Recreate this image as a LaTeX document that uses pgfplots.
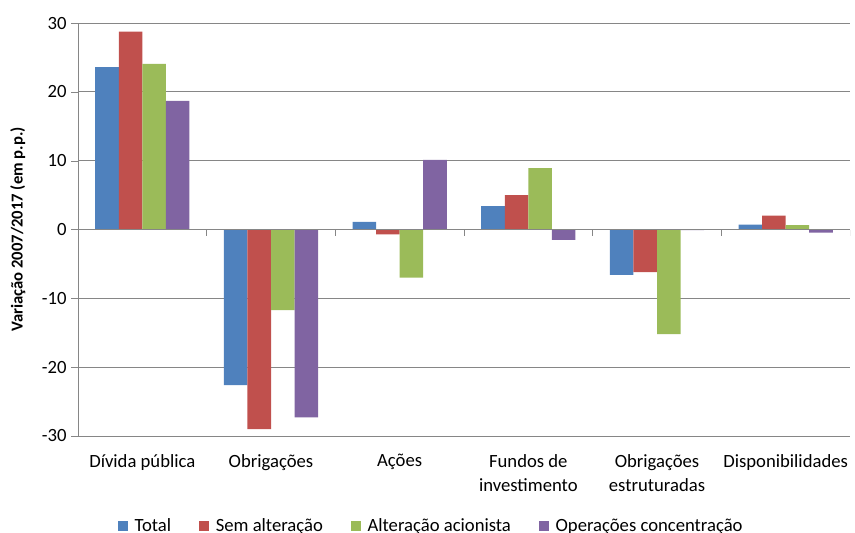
\documentclass[border=0pt]{standalone}
\usepackage{pgfplots}
\pgfplotsset{compat=1.18}
\usepackage{fontspec}
\setmainfont{Carlito}
\definecolor{cTotal}{HTML}{4F81BD}
\definecolor{cSem}{HTML}{C0504D}
\definecolor{cAlt}{HTML}{9BBB59}
\definecolor{cOp}{HTML}{8064A2}
\definecolor{gridgray}{HTML}{868686}

\begin{document}
\begin{tikzpicture}
\begin{axis}[
    name=ax, at={(0,0)}, anchor=south west,
    scale only axis, width=579pt, height=309.75pt,
    ybar=0pt, bar width=0.183,
    xmin=-0.5, xmax=5.5, ymin=-30, ymax=30,
    xtick={0,...,5},
    xticklabels={Dívida pública,Obrigações,Ações,Fundos de\\investimento,Obrigações\\estruturadas,Disponibilidades},
    xticklabel style={align=center, font=\fontsize{14}{18}\selectfont, yshift=-5pt},
    axis x line*=bottom,
    x axis line style={draw=none},
    major x tick style={draw=none},
    axis y line*=left,
    y axis line style={gridgray},
    ytick={-30,-20,-10,0,10,20,30},
    yticklabels={-30,-20,-10,0,10,20,30},
    yticklabel style={font=\fontsize{14}{16}\selectfont},
    tick align=outside, major tick length=5pt,
    major y tick style={gridgray},
    ymajorgrids, major grid style={gridgray, line width=0.6pt},
    ylabel={Variação 2007/2017 (em p.p.)},
    ylabel style={at={(axis description cs:-0.078,0.5)}, anchor=center, font=\bfseries\fontsize{12.5}{14}\selectfont},
    legend columns=4,
    legend style={at={(axis description cs:0.458,-0.219)}, anchor=center, draw=none,
        font=\fontsize{14}{16}\selectfont,
        /tikz/every odd column/.append style={column sep=3pt},
        /tikz/every even column/.append style={column sep=19pt}},
    legend image code/.code={\fill[#1] (0pt,-3.75pt) rectangle (7.5pt,3.75pt);},
]
\addplot[fill=cTotal, draw=none] coordinates {(0,23.6) (1,-22.6) (2,1.1) (3,3.4) (4,-6.6) (5,0.7)};
\addlegendentry{Total}
\addplot[fill=cSem, draw=none] coordinates {(0,28.75) (1,-29.0) (2,-0.7) (3,5.0) (4,-6.2) (5,2.0)};
\addlegendentry{Sem alteração}
\addplot[fill=cAlt, draw=none] coordinates {(0,24.05) (1,-11.7) (2,-7.0) (3,8.9) (4,-15.2) (5,0.65)};
\addlegendentry{Alteração acionista}
\addplot[fill=cOp, draw=none] coordinates {(0,18.7) (1,-27.3) (2,10.1) (3,-1.5) (4,-0.1) (5,-0.45)};
\addlegendentry{Operações concentração}
\draw[gridgray, line width=0.6pt] (axis cs:-0.5,0) -- (axis cs:5.5,0);
\pgfplotsinvokeforeach{0.5,1.5,2.5,3.5,4.5,5.5}{
  \draw[gridgray, line width=0.6pt] (axis cs:#1,0) -- ([yshift=-5pt]axis cs:#1,0);
}
\end{axis}
\pgfresetboundingbox
\path[use as bounding box] (-58.5pt,-72pt) rectangle (582.75pt,327pt);
\end{tikzpicture}
\end{document}
